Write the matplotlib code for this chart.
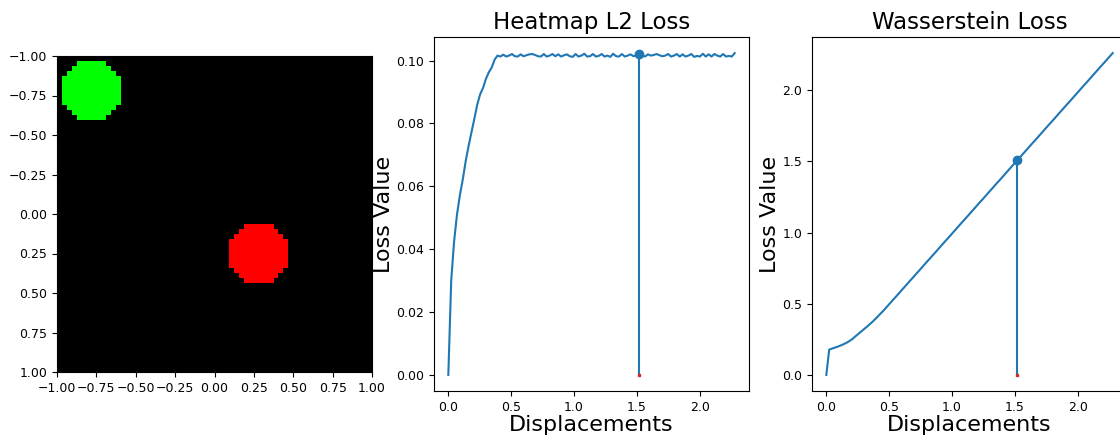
import numpy as np
import matplotlib
matplotlib.use("Agg")
import matplotlib.pyplot as plt

# ---------------- data ----------------
# image: two discs on a 64x64 grid spanning [-1, 1]
grid_size = 64
green_center = (-0.78125, -0.78125)
red_center = (0.28125, 0.25)
disc_radius = 0.189

displacements = [
    0.000, 0.023, 0.046, 0.069, 0.092, 0.115, 0.138, 0.161, 0.184, 0.207,
    0.230, 0.253, 0.276, 0.299, 0.322, 0.345, 0.368, 0.391, 0.414, 0.437,
    0.460, 0.483, 0.506, 0.529, 0.552, 0.575, 0.598, 0.621, 0.644, 0.667,
    0.690, 0.713, 0.736, 0.759, 0.782, 0.805, 0.828, 0.851, 0.874, 0.897,
    0.920, 0.943, 0.966, 0.989, 1.012, 1.035, 1.058, 1.081, 1.104, 1.127,
    1.150, 1.173, 1.196, 1.219, 1.242, 1.265, 1.288, 1.311, 1.334, 1.357,
    1.380, 1.403, 1.426, 1.449, 1.472, 1.495, 1.518, 1.541, 1.564, 1.587,
    1.610, 1.633, 1.656, 1.679, 1.702, 1.725, 1.748, 1.771, 1.794, 1.817,
    1.840, 1.863, 1.886, 1.909, 1.932, 1.955, 1.978, 2.001, 2.024, 2.047,
    2.070, 2.093, 2.116, 2.139, 2.162, 2.185, 2.208, 2.231, 2.254, 2.277,
]

heatmap_l2 = [
    0.0000, 0.0300, 0.0425, 0.0510, 0.0572, 0.0622, 0.0680, 0.0728, 0.0772, 0.0815,
    0.0860, 0.0893, 0.0913, 0.0942, 0.0963, 0.0978, 0.1003, 0.1016, 0.1013, 0.1019,
    0.1013, 0.1016, 0.1021, 0.1014, 0.1013, 0.1020, 0.1014, 0.1017, 0.1020, 0.1021,
    0.1018, 0.1014, 0.1013, 0.1021, 0.1013, 0.1016, 0.1021, 0.1014, 0.1020, 0.1013,
    0.1017, 0.1020, 0.1014, 0.1012, 0.1021, 0.1013, 0.1016, 0.1022, 0.1013, 0.1014,
    0.1021, 0.1013, 0.1015, 0.1021, 0.1013, 0.1016, 0.1012, 0.1022, 0.1014, 0.1013,
    0.1021, 0.1013, 0.1016, 0.1020, 0.1014, 0.1017, 0.1021, 0.1018, 0.1013, 0.1020,
    0.1016, 0.1018, 0.1021, 0.1017, 0.1014, 0.1016, 0.1021, 0.1013, 0.1016, 0.1021,
    0.1013, 0.1020, 0.1013, 0.1016, 0.1021, 0.1012, 0.1015, 0.1013, 0.1022, 0.1013,
    0.1020, 0.1013, 0.1021, 0.1016, 0.1013, 0.1021, 0.1013, 0.1015, 0.1013, 0.1024,
]

wasserstein = [
    0.000, 0.178, 0.185, 0.192, 0.199, 0.207, 0.216, 0.226, 0.238, 0.252,
    0.270, 0.287, 0.304, 0.321, 0.338, 0.356, 0.374, 0.394, 0.415, 0.436,
    0.457, 0.480, 0.503, 0.526, 0.548, 0.571, 0.594, 0.617, 0.640, 0.663,
    0.685, 0.708, 0.731, 0.754, 0.777, 0.800, 0.822, 0.845, 0.868, 0.891,
    0.914, 0.937, 0.959, 0.982, 1.005, 1.028, 1.051, 1.074, 1.096, 1.119,
    1.142, 1.165, 1.188, 1.211, 1.233, 1.256, 1.279, 1.302, 1.325, 1.348,
    1.370, 1.393, 1.416, 1.439, 1.462, 1.485, 1.507, 1.530, 1.553, 1.576,
    1.599, 1.622, 1.644, 1.667, 1.690, 1.713, 1.736, 1.759, 1.781, 1.804,
    1.827, 1.850, 1.873, 1.896, 1.918, 1.941, 1.964, 1.987, 2.010, 2.033,
    2.055, 2.078, 2.101, 2.124, 2.147, 2.170, 2.192, 2.215, 2.238, 2.261,
]

current_displacement = 1.515
current_heatmap = 0.1021
current_wasserstein = 1.510

image_ticks = [-1.00, -0.75, -0.50, -0.25, 0.00, 0.25, 0.50, 0.75, 1.00]

# ---------------- figure ----------------
W, H = 1120, 437
fig = plt.figure(figsize=(W / 100, H / 100), dpi=100)

def px_axes(left, top, right, bottom):
    return fig.add_axes([left / W, 1 - bottom / H, (right - left) / W, (bottom - top) / H])

# image panel
ax0 = px_axes(57, 56, 372, 372)
coords = -1 + (np.arange(grid_size) + 0.5) * (2 / grid_size)
gx, gy = np.meshgrid(coords, coords)
img = np.zeros((grid_size, grid_size, 3))
gmask = (gx - green_center[0]) ** 2 + (gy - green_center[1]) ** 2 <= disc_radius ** 2
rmask = (gx - red_center[0]) ** 2 + (gy - red_center[1]) ** 2 <= disc_radius ** 2
img[gmask] = [0, 1, 0]
img[rmask] = [1, 0, 0]
ax0.imshow(img, extent=[-1, 1, 1, -1], interpolation="nearest", aspect="auto")
ax0.set_xticks(image_ticks)
ax0.set_yticks(image_ticks)
ax0.set_xticklabels([f"{t:.2f}".replace("-", "\u2212") for t in image_ticks])
ax0.set_yticklabels([f"{t:.2f}".replace("-", "\u2212") for t in image_ticks])
ax0.tick_params(labelsize=9)

label_fs = 16
title_fs = 16.5

def stem_mark(ax, x, y):
    ax.stem([x], [y])
    ax.plot([x], [0], marker="s", ms=1.6, color="C3", lw=0)

# heatmap panel
ax1 = px_axes(434, 37, 749, 391)
ax1.plot(displacements, heatmap_l2, color="C0", lw=1.5)
stem_mark(ax1, current_displacement, current_heatmap)
ax1.set_title("Heatmap L2 Loss", fontsize=title_fs)
ax1.set_xlabel("Displacements", fontsize=label_fs, labelpad=1)
ax1.set_ylabel("Loss Value", fontsize=label_fs, labelpad=2)
ax1.set_xticks([0.0, 0.5, 1.0, 1.5, 2.0])
ax1.set_yticks([0.00, 0.02, 0.04, 0.06, 0.08, 0.10])
ax1.tick_params(labelsize=9)

# wasserstein panel
ax2 = px_axes(812, 37, 1127, 391)
ax2.plot(displacements, wasserstein, color="C0", lw=1.5)
stem_mark(ax2, current_displacement, current_wasserstein)
ax2.set_title("Wasserstein Loss", fontsize=title_fs)
ax2.set_xlabel("Displacements", fontsize=label_fs, labelpad=1)
ax2.set_ylabel("Loss Value", fontsize=label_fs, labelpad=2)
ax2.set_xticks([0.0, 0.5, 1.0, 1.5, 2.0])
ax2.set_yticks([0.0, 0.5, 1.0, 1.5, 2.0])
ax2.tick_params(labelsize=9)

fig.savefig("out.png", dpi=100)
